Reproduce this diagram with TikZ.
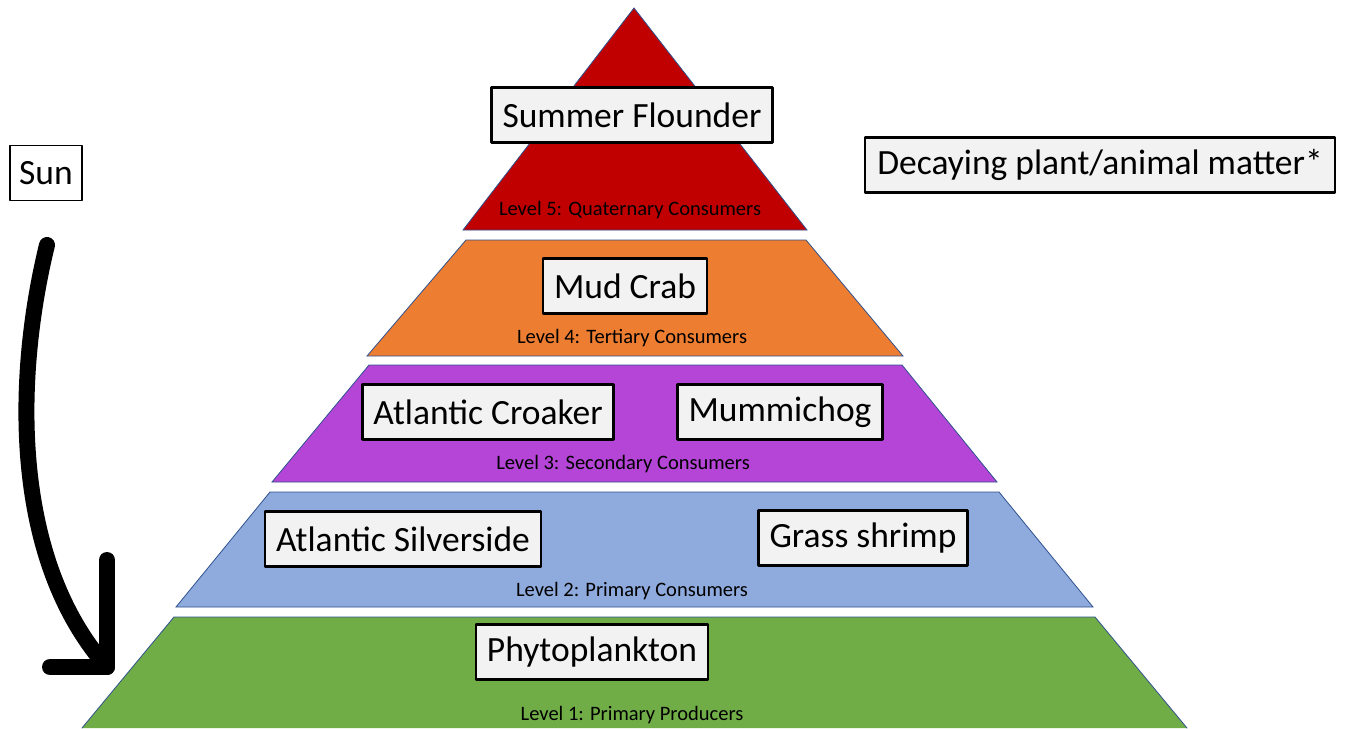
\documentclass[tikz,border=0pt]{standalone}
\usepackage{fontspec}
\setmainfont{Carlito}
\definecolor{Lfive}{RGB}{192,0,0}
\definecolor{Lfour}{RGB}{237,125,49}
\definecolor{Lthree}{RGB}{180,69,214}
\definecolor{Ltwo}{RGB}{143,170,220}
\definecolor{Lone}{RGB}{112,173,71}
\definecolor{Edge}{RGB}{47,82,143}
\definecolor{Boxfill}{RGB}{242,242,242}
\tikzset{
  layer/.style={draw=Edge,line width=0.8pt,line join=miter},
  species/.style={draw=black,line width=2.4pt,fill=Boxfill,inner xsep=11pt,inner ysep=0pt,minimum height=55pt,font=\fontsize{35.5}{40}\selectfont},
  levellabel/.style={inner sep=0pt,font=\fontsize{20.5}{23}\selectfont},
}

\begin{document}
\begin{tikzpicture}[x=1pt,y=-1pt,line cap=round,line join=round]
\path[use as bounding box] (0,0) rectangle (1348,728);
% pyramid layers, top to bottom
\path[layer,fill=Lfive] (634,8) -- (807,230) -- (463,230) -- cycle;
\path[layer,fill=Lfour] (466,240) -- (806,240) -- (903,356) -- (367,356) -- cycle;
\path[layer,fill=Lthree] (369,365) -- (902,365) -- (997,482) -- (272,482) -- cycle;
\path[layer,fill=Ltwo] (270,492) -- (999,492) -- (1093,607) -- (176,607) -- cycle;
\fill[Lone] (174,617) -- (1095,617) -- (1187,728) -- (82,728) -- cycle;
\draw[layer] (82,728) -- (174,617) -- (1095,617) -- (1187,728);
% level names
\node[levellabel] (lvlfive) at (630,210) {Level 5: Quaternary Consumers};
\node[levellabel] (lvlfour) at (632,338) {Level 4: Tertiary Consumers};
\node[levellabel] (lvlthree) at (623,464) {Level 3: Secondary Consumers};
\node[levellabel] (lvltwo) at (632,591) {Level 2: Primary Consumers};
\node[levellabel] (lvlone) at (632,715) {Level 1: Primary Producers};
% organisms
\node[species] (flounder) at (632,115) {Summer Flounder};
\node[species] (crab) at (625,286) {Mud Crab};
\node[species] (croaker) at (488,412) {Atlantic Croaker};
\node[species] (mummichog) at (780,412) {Mummichog};
\node[species] (silverside) at (403,539) {Atlantic Silverside};
\node[species] (shrimp) at (863,538) {Grass shrimp};
\node[species] (phyto) at (592,652) {Phytoplankton};
\node[species,inner xsep=12pt] (decay) at (1100,165) {Decaying plant/animal matter*};
\node[species,line width=1.8pt,fill=white,inner xsep=9pt] (sun) at (46,173) {Sun};
% energy arrow
\coordinate (arrowtop) at (47,245);
\coordinate (arrowtip) at (107,667);
\draw[line width=16pt] (arrowtop) .. controls (14,380) and (12,560) .. (arrowtip);
\draw[line width=16pt] (arrowtip) ++(-57,0) -- (arrowtip) -- ++(0,-107);
\end{tikzpicture}
\end{document}
